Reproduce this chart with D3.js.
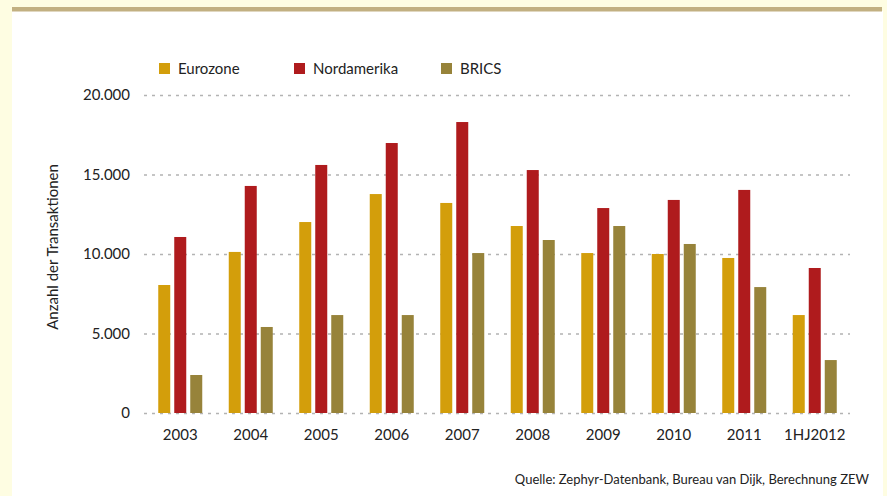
<!DOCTYPE html>
<html>
<head>
<meta charset="utf-8">
<script src="https://cdn.jsdelivr.net/npm/d3@7"></script>
<style>
  html, body { margin: 0; padding: 0; background: #fefde2; }
  svg { display: block; }
  text { font-family: Lato, "Open Sans", sans-serif; fill: #222; }
</style>
</head>
<body>
<svg id="chart" width="887" height="496"></svg>
<script>
const categories = ["2003","2004","2005","2006","2007","2008","2009","2010","2011","1HJ2012"];
const seriesNames = ["Eurozone","Nordamerika","BRICS"];
const eurozone    = [8050, 10130, 12010, 13770, 13210, 11760, 10060, 10000, 9750, 6160];
const nordamerika = [11070, 14280, 15600, 16980, 18300, 15280, 12890, 13400, 14030, 9120];
const brics       = [2390, 5410, 6160, 6160, 10060, 10880, 11760, 10630, 7920, 3330];
const seriesColors = ["#d39e0b", "#af1b1d", "#97833a"];
const yTicks = [0, 5000, 10000, 15000, 20000];
const yTitle = "Anzahl der Transaktionen";
const source = "Quelle: Zephyr-Datenbank, Bureau van Dijk, Berechnung ZEW";

const values = [eurozone, nordamerika, brics];
const svg = d3.select("#chart");

// panel
svg.append("rect").attr("x", 12).attr("y", 11).attr("width", 871).attr("height", 485).attr("fill", "#ffffff");
svg.append("rect").attr("x", 12).attr("y", 7).attr("width", 870).attr("height", 4.5).attr("fill", "#c2b081");

const x0 = d3.scaleBand().domain(categories).range([145, 850]).paddingInner(0).paddingOuter(0);
const x1 = d3.scaleBand().domain(seriesNames).range([0, x0.bandwidth()]).paddingInner(0.25).paddingOuter(0.828);
const y = d3.scaleLinear().domain([0, 20000]).range([413, 95]);

// grid
const fmt = v => d3.format(",")(v).replace(/,/g, ".");
const yAxis = d3.axisLeft(y).tickValues(yTicks).tickSize(-(850 - 144)).tickPadding(14).tickFormat(fmt);
const gy = svg.append("g").attr("transform", "translate(144,0)").call(yAxis);
gy.select(".domain").remove();
gy.selectAll(".tick line").attr("stroke", "#b3b3b3").attr("stroke-width", 1.3).attr("stroke-dasharray", "3,5");
gy.selectAll(".tick text").attr("font-size", 15).attr("fill", "#222").style("font-family", "Lato, 'Open Sans', sans-serif");

// bars
const groups = svg.append("g").selectAll("g").data(categories).join("g")
  .attr("transform", d => `translate(${x0(d)},0)`);
groups.selectAll("rect").data((c, i) => seriesNames.map((s, k) => ({s, v: values[k][i], k})))
  .join("rect")
  .attr("x", d => x1(d.s))
  .attr("width", x1.bandwidth())
  .attr("y", d => y(d.v))
  .attr("height", d => y(0) - y(d.v))
  .attr("fill", d => seriesColors[d.k]);

// x axis labels
const xAxis = d3.axisBottom(x0).tickSize(0).tickPadding(16);
const gx = svg.append("g").attr("transform", "translate(0,413)").call(xAxis);
gx.select(".domain").remove();
gx.selectAll(".tick text").attr("font-size", 15).attr("fill", "#222").style("font-family", "Lato, 'Open Sans', sans-serif");

// y title
svg.append("text").attr("transform", "translate(58,247) rotate(-90)")
  .attr("text-anchor", "middle").attr("font-size", 15).text(yTitle);

// legend
const legendX = [159, 294, 441];
const lg = svg.append("g").selectAll("g").data(seriesNames).join("g")
  .attr("transform", (d, i) => `translate(${legendX[i]},63)`);
lg.append("rect").attr("width", 11).attr("height", 11).attr("fill", (d, i) => seriesColors[i]);
lg.append("text").attr("x", 19).attr("y", 11).attr("font-size", 15).text(d => d);

// source
svg.append("text").attr("x", 869).attr("y", 484).attr("text-anchor", "end").attr("font-size", 13).text(source);
</script>
</body>
</html>
